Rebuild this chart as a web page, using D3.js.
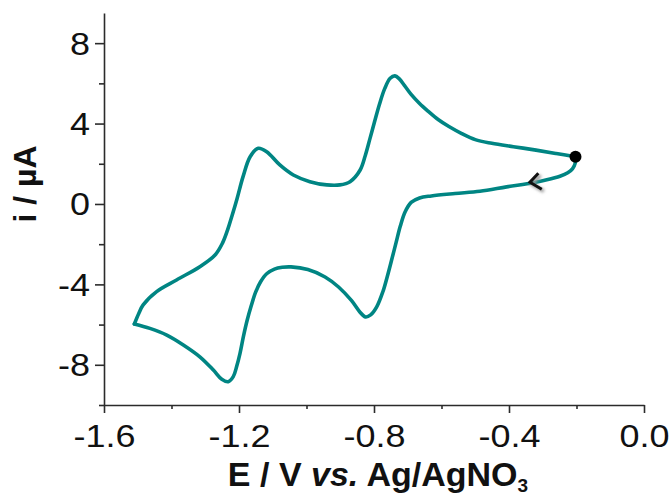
<!DOCTYPE html>
<html>
<head>
<meta charset="utf-8">
<script src="https://cdn.jsdelivr.net/npm/d3@7"></script>
<style>
  html, body { margin: 0; padding: 0; background: #fff; }
  svg { display: block; }
</style>
</head>
<body>
<svg id="chart" width="670" height="495"></svg>
<script>
// ---- data (E in V vs Ag/AgNO3, i in µA) ----
const cathodicScan = [
  [-0.203, 2.35], [-0.204, 2.02], [-0.212, 1.75], [-0.226, 1.55], [-0.249, 1.38],
  [-0.288, 1.20], [-0.328, 1.06], [-0.407, 0.85], [-0.486, 0.63], [-0.560, 0.52],
  [-0.630, 0.40], [-0.665, 0.30], [-0.690, 0.08], [-0.708, -0.40], [-0.722, -1.10],
  [-0.735, -1.95], [-0.748, -2.80], [-0.761, -3.63], [-0.774, -4.38], [-0.792, -5.12],
  [-0.810, -5.52], [-0.825, -5.62], [-0.842, -5.37], [-0.867, -4.80], [-0.905, -4.13],
  [-0.945, -3.63], [-0.996, -3.26], [-1.046, -3.13], [-1.072, -3.15], [-1.095, -3.24],
  [-1.118, -3.47], [-1.136, -3.87], [-1.151, -4.40], [-1.164, -5.08], [-1.176, -5.80],
  [-1.187, -6.60], [-1.197, -7.43], [-1.207, -8.09], [-1.217, -8.59], [-1.232, -8.84],
  [-1.251, -8.72], [-1.276, -8.26], [-1.316, -7.60], [-1.365, -7.01], [-1.414, -6.52],
  [-1.464, -6.19], [-1.510, -5.97]
];
const anodicScan = [
  [-1.510, -5.97], [-1.497, -5.45], [-1.484, -5.02], [-1.444, -4.36], [-1.385, -3.78],
  [-1.316, -3.12], [-1.271, -2.54], [-1.249, -1.95], [-1.234, -1.30], [-1.220, -0.55],
  [-1.206, 0.25], [-1.188, 1.36], [-1.167, 2.35], [-1.143, 2.77], [-1.118, 2.60],
  [-1.079, 1.94], [-1.039, 1.44], [-0.990, 1.11], [-0.940, 0.95], [-0.901, 0.95],
  [-0.871, 1.11], [-0.841, 1.69], [-0.826, 2.40], [-0.812, 3.25], [-0.799, 4.05],
  [-0.784, 4.95], [-0.768, 5.75], [-0.752, 6.25], [-0.738, 6.37], [-0.725, 6.22],
  [-0.710, 5.90], [-0.690, 5.45], [-0.665, 5.00], [-0.640, 4.62], [-0.610, 4.20],
  [-0.578, 3.85], [-0.540, 3.50], [-0.500, 3.20], [-0.451, 3.02], [-0.387, 2.85],
  [-0.320, 2.68], [-0.260, 2.51], [-0.203, 2.35]
];
const startPoint = [-0.203, 2.35];
const arrowTip = [-0.338, 1.08];
const arrowArms = [[-0.313, 1.53], [-0.303, 0.73]];

const xMajorTicks = [-1.6, -1.2, -0.8, -0.4, 0.0];
const xMinorTicks = [-1.4, -1.0, -0.6, -0.2];
const yMajorTicks = [8, 4, 0, -4, -8];
const yMinorTicks = [6, 2, -2, -6, -10];
const xDomain = [-1.6, 0.0];
const yDomain = [-10, 9.5];

// ---- layout ----
const svg = d3.select("#chart");
const x = d3.scaleLinear().domain(xDomain).range([104, 644]);
const y = d3.scaleLinear().domain(yDomain).range([405, 13]);
const axisColor = "#2b2b2b";
const tickFont = "'Liberation Sans', Arial, sans-serif";
const stretch = 1.18;

// x axis
const gx = svg.append("g").attr("transform", `translate(0,${y(-10)})`);
gx.call(d3.axisBottom(x).tickValues(xMajorTicks).tickSize(8).tickSizeOuter(0)
  .tickFormat(d => d.toFixed(1)));
svg.append("g").attr("transform", `translate(0,${y(-10)})`)
  .call(d3.axisBottom(x).tickValues(xMinorTicks).tickSize(4).tickSizeOuter(0).tickFormat(""))
  .select(".domain").remove();

// y axis
const gy = svg.append("g").attr("transform", `translate(${x(-1.6)},0)`);
gy.call(d3.axisLeft(y).tickValues(yMajorTicks).tickSize(9).tickSizeOuter(0)
  .tickFormat(d => String(d)));
svg.append("g").attr("transform", `translate(${x(-1.6)},0)`)
  .call(d3.axisLeft(y).tickValues(yMinorTicks).tickSize(5).tickSizeOuter(0).tickFormat(""))
  .select(".domain").remove();

svg.selectAll(".domain, .tick line").attr("stroke", axisColor).attr("stroke-width", 1.6);

gx.selectAll(".tick text")
  .attr("font-family", tickFont).attr("font-size", 30.5).attr("fill", "#111")
  .attr("y", 42).attr("dy", null)
  .attr("transform", `scale(${stretch},1)`);
gy.selectAll(".tick text")
  .attr("font-family", tickFont).attr("font-size", 30.5).attr("fill", "#111")
  .attr("x", -14 / stretch).attr("dy", "0.36em")
  .attr("transform", `scale(${stretch},1)`);

// axis titles
const xt = svg.append("text")
  .attr("x", 378).attr("y", 486)
  .attr("text-anchor", "middle")
  .attr("font-family", tickFont).attr("font-weight", "bold").attr("font-size", 34)
  .attr("fill", "#111");
xt.append("tspan").text("E / V ");
xt.append("tspan").attr("font-style", "italic").text("vs.");
xt.append("tspan").text(" Ag/AgNO");
xt.append("tspan").attr("font-size", 19).attr("dy", 6).text("3");

svg.append("text")
  .attr("transform", "translate(36,184) rotate(-90)")
  .attr("text-anchor", "middle")
  .attr("font-family", tickFont).attr("font-weight", "bold").attr("font-size", 32)
  .attr("fill", "#111")
  .text("i / µA");

// ---- curve ----
const lineGen = d3.line().x(d => x(d[0])).y(d => y(d[1])).curve(d3.curveCatmullRom.alpha(0.5));
const curveColor = "#008583";
svg.append("path").datum(cathodicScan)
  .attr("d", lineGen).attr("fill", "none").attr("stroke", curveColor)
  .attr("stroke-width", 3.6).attr("stroke-linejoin", "round").attr("stroke-linecap", "round");
svg.append("path").datum(anodicScan)
  .attr("d", lineGen).attr("fill", "none").attr("stroke", curveColor)
  .attr("stroke-width", 3.6).attr("stroke-linejoin", "round").attr("stroke-linecap", "round");

// arrow (scan direction)
const defs = svg.append("defs");
const f = defs.append("filter").attr("id", "blur").attr("x", "-50%").attr("y", "-50%")
  .attr("width", "200%").attr("height", "200%");
f.append("feGaussianBlur").attr("stdDeviation", 1.6);
const arrowPts = [arrowArms[0], arrowTip, arrowArms[1]];
svg.append("path").datum(arrowPts)
  .attr("d", d3.line().x(d => x(d[0]) + 2).y(d => y(d[1]) + 2))
  .attr("fill", "none").attr("stroke", "#999").attr("stroke-width", 3.5)
  .attr("filter", "url(#blur)");
svg.append("path").datum(arrowPts)
  .attr("d", d3.line().x(d => x(d[0])).y(d => y(d[1])))
  .attr("fill", "none").attr("stroke", "#111").attr("stroke-width", 3)
  .attr("stroke-linejoin", "miter").attr("stroke-linecap", "butt");

// starting point
svg.append("circle")
  .attr("cx", x(startPoint[0])).attr("cy", y(startPoint[1])).attr("r", 6)
  .attr("fill", "#000");
</script>
</body>
</html>
